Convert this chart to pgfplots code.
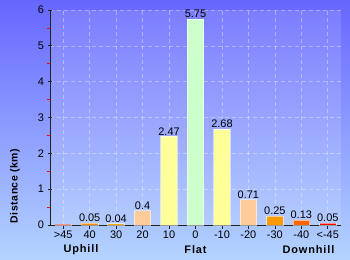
\documentclass[border=0pt]{standalone}
\usepackage{pgfplots}
\pgfplotsset{compat=1.18}
\usepackage{fontspec}
\setmainfont{Liberation Sans}
\definecolor{bgtop}{RGB}{102,102,255}
\definecolor{bgbot}{RGB}{180,212,255}
\definecolor{cred}{HTML}{FF0000}
\definecolor{cor1}{HTML}{FF8800}
\definecolor{cor2}{HTML}{FFAA00}
\definecolor{cpeach}{HTML}{FFCC99}
\definecolor{cyel}{HTML}{FFFF99}
\definecolor{cgreen}{HTML}{CCFFCC}
\definecolor{cor3}{HTML}{FF9900}
\definecolor{cor4}{HTML}{FF6600}
\definecolor{axc}{HTML}{222222}
\begin{document}
\begin{tikzpicture}
\shade[top color=bgtop, bottom color=bgbot] (0,0) rectangle (350bp,260bp);
\path[use as bounding box] (0,0) rectangle (350bp,260bp);
\begin{axis}[
  at={(50bp,35bp)}, anchor=south west,
  scale only axis, width=291bp, height=215bp,
  xmin=-0.5, xmax=10.5, ymin=0, ymax=6,
  axis x line=bottom, axis y line=left,
  axis line style={-, draw=axc, line width=0.8bp},
  axis background/.style={fill=white, fill opacity=0.13},
  xtick={0,...,10},
  xticklabels={>45,40,30,20,10,0,-10,-20,-30,-40,<-45},
  ytick={0,...,6},
  minor y tick num=1,
  tick align=center,
  major tick length=4bp,
  minor tick length=2.5bp,
  tick style={draw=axc, line width=0.7bp},
  x tick style={yshift=-1.8bp},
  minor tick style={draw=red, line width=0.7bp, xshift=-1.3bp},
  xmajorgrids, ymajorgrids,
  major grid style={draw=white, draw opacity=0.35, dash pattern=on 4bp off 3bp, line width=0.6bp},
  tick label style={font=\fontsize{11}{13}\selectfont, text=black},
  yticklabel style={xshift=-0.5bp},
  /pgf/number format/assume math mode=true,
  clip=false,
  every node near coord/.style={font=\fontsize{11}{13}\selectfont, text=black, anchor=south, inner sep=1bp},
  every axis plot/.append style={ybar, bar width=16.5bp, bar shift=0pt, draw=white, draw opacity=0.55, line width=0.8bp},
]
\addplot[fill=cred] coordinates {(0,0.02)};
\addplot[fill=cor1, nodes near coords={0.05}] coordinates {(1,0.05)};
\addplot[fill=cor2, nodes near coords={0.04}] coordinates {(2,0.04)};
\addplot[fill=cpeach, nodes near coords={0.4}] coordinates {(3,0.4)};
\addplot[fill=cyel, nodes near coords={2.47}] coordinates {(4,2.47)};
\addplot[fill=cgreen, nodes near coords={5.75}] coordinates {(5,5.75)};
\addplot[fill=cyel, nodes near coords={2.68}] coordinates {(6,2.68)};
\addplot[fill=cpeach, nodes near coords={0.71}] coordinates {(7,0.71)};
\addplot[fill=cor3, nodes near coords={0.25}] coordinates {(8,0.25)};
\addplot[fill=cor4, nodes near coords={0.13}] coordinates {(9,0.13)};
\addplot[fill=cred, nodes near coords={0.05}] coordinates {(10,0.05)};
\node[font=\bfseries\fontsize{11}{13}\selectfont\addfontfeature{LetterSpace=8}] at (axis cs:0.67,0) [yshift=-25bp] {Uphill};
\node[font=\bfseries\fontsize{11}{13}\selectfont\addfontfeature{LetterSpace=8}] at (axis cs:5,0) [yshift=-25bp] {Flat};
\node[font=\bfseries\fontsize{11}{13}\selectfont\addfontfeature{LetterSpace=8}] at (axis cs:9.27,0) [yshift=-25bp] {Downhill};
\end{axis}
\node[rotate=90, font=\bfseries\fontsize{10.5}{12}\selectfont\addfontfeature{LetterSpace=5}] at (15bp,74bp) {Distance (km)};
\end{tikzpicture}
\end{document}
